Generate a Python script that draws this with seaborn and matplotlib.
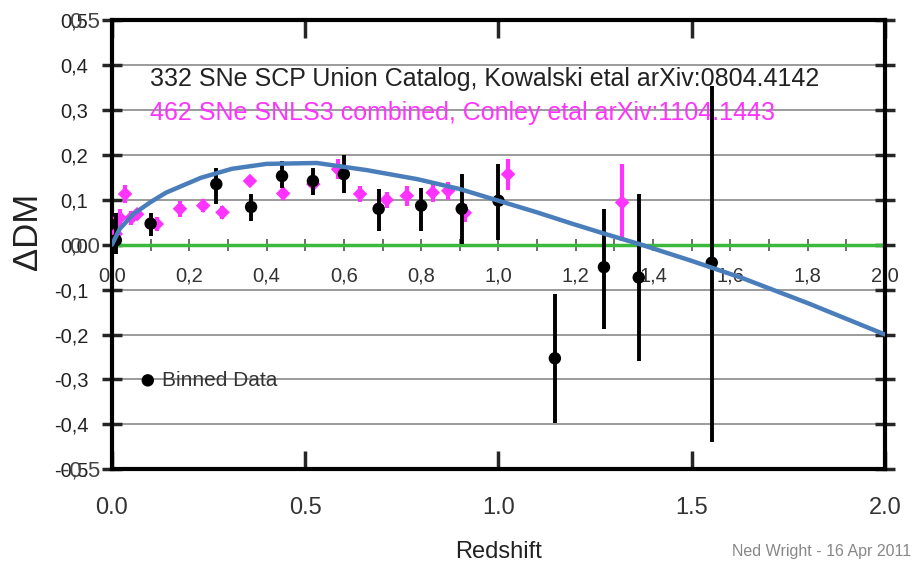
import pandas as pd
import seaborn as sns
from matplotlib import pyplot as plt

# binned Union catalog points (black) with error bar ends
union_z = [0.01, 0.10, 0.27, 0.36, 0.44, 0.52, 0.60, 0.69, 0.80, 0.905, 1.0, 1.146, 1.273, 1.363, 1.552]
union_dm = [0.01, 0.047, 0.135, 0.084, 0.153, 0.142, 0.157, 0.08, 0.087, 0.08, 0.098, -0.253, -0.05, -0.073, -0.04]
union_lo = [-0.02, 0.02, 0.09, 0.053, 0.127, 0.11, 0.116, 0.03, 0.03, 0.002, 0.01, -0.398, -0.187, -0.258, -0.44]
union_hi = [0.07, 0.07, 0.17, 0.113, 0.187, 0.17, 0.2, 0.124, 0.127, 0.157, 0.18, -0.109, 0.08, 0.113, 0.353]

# SNLS3 combined points (magenta)
snls_z = [0.01, 0.02, 0.034, 0.05, 0.065, 0.116, 0.176, 0.236, 0.286, 0.357, 0.443,
          0.521, 0.585, 0.642, 0.711, 0.763, 0.83, 0.87, 0.913, 1.025, 1.32]
snls_dm = [0.024, 0.06, 0.113, 0.06, 0.068, 0.046, 0.08, 0.087, 0.072, 0.142, 0.114,
           0.135, 0.168, 0.113, 0.1, 0.109, 0.116, 0.12, 0.071, 0.157, 0.094]
snls_err = [0.03, 0.02, 0.02, 0.015, 0.012, 0.015, 0.018, 0.015, 0.015, 0.012, 0.015,
            0.018, 0.022, 0.018, 0.018, 0.022, 0.02, 0.02, 0.02, 0.035, 0.085]

# model curve (blue)
model_z = [0, 0.02, 0.055, 0.1, 0.14, 0.23, 0.31, 0.4, 0.53, 0.66, 0.79, 0.9, 1.0, 1.1, 1.19, 1.28, 1.37,
           1.5, 1.63, 1.8, 2.0]
model_dm = [0, 0.035, 0.068, 0.095, 0.116, 0.149, 0.169, 0.18, 0.182, 0.166, 0.146, 0.124, 0.098, 0.072,
            0.047, 0.023, 0.0, -0.036, -0.074, -0.13, -0.2]

zero_z = [0, 2]
zero_dm = [0, 0]

y_ticks = [0.5, 0.4, 0.3, 0.2, 0.1, 0.0, -0.1, -0.2, -0.3, -0.4, -0.5]
y_labels = ["0,5", "0,4", "0,3", "0,2", "0,1", "0,0", "-0,1", "-0,2", "-0,3", "-0,4", "-0,5"]
y_ghost = {0.5: "0.5", 0.0: "0.0", -0.5: "-0.5"}
x_ticks = [0.0, 0.5, 1.0, 1.5, 2.0]
x_labels = ["0.0", "0.5", "1.0", "1.5", "2.0"]
x2_ticks = [0.0, 0.2, 0.4, 0.6, 0.8, 1.0, 1.2, 1.4, 1.6, 1.8, 2.0]
x2_labels = ["0,0", "0,2", "0,4", "0,6", "0,8", "1,0", "1,2", "1,4", "1,6", "1,8", "2,0"]
x2_minor = [0.1, 0.3, 0.5, 0.7, 0.9, 1.1, 1.3, 1.5, 1.7, 1.9]

union = pd.DataFrame({"z": union_z, "dm": union_dm, "lo": union_lo, "hi": union_hi})
snls = pd.DataFrame({"z": snls_z, "dm": snls_dm, "err": snls_err})
model = pd.DataFrame({"z": model_z, "dm": model_dm})

sns.set_style("white")
plt.rcParams["font.family"] = ["Liberation Sans", "DejaVu Sans"]

fig = plt.figure(figsize=(9.14, 5.66), dpi=100)
ax = fig.add_axes([0.1225, 0.171, 0.8457, 0.7933])

for y in y_ticks:
    ax.axhline(y, color="#8a8a8a", lw=1.2, zorder=0)

ax.plot(zero_z, zero_dm, color="#3cb83c", lw=2.5, zorder=1)

ax.errorbar(snls["z"], snls["dm"], yerr=snls["err"], fmt="none", ecolor="#ff33ff", elinewidth=3, zorder=2)
sns.scatterplot(data=snls, x="z", y="dm", marker="D", s=55, color="#ff33ff", edgecolor="none", ax=ax, zorder=3)

ax.vlines(union["z"], union["lo"], union["hi"], color="black", lw=2.8, zorder=4)
sns.scatterplot(data=union, x="z", y="dm", s=80, color="black", edgecolor="none", ax=ax, zorder=5,
                label="Binned Data")

sns.lineplot(data=model, x="z", y="dm", color="#4a7ebb", lw=3.2, ax=ax, zorder=6)

ax.set_xlim(0, 2)
ax.set_ylim(-0.5, 0.5)
ax.set_xticks(x_ticks)
ax.set_xticklabels(x_labels, fontsize=17, color="#333333")
ax.set_yticks(y_ticks)
ax.set_yticklabels(y_labels, fontsize=14.5, color="#222222")
ax.tick_params(axis="x", direction="in", length=13, width=2.5, top=True, bottom=True, pad=20)
ax.tick_params(axis="y", direction="inout", length=14, width=2.5, left=True, right=True, pad=10)
for s in ax.spines.values():
    s.set_linewidth(3)
    s.set_color("black")

# second label set overlapping the comma labels at 0.5, 0 and -0.5 (as in the source image)
for y, lab in y_ghost.items():
    ax.text(-0.0155, y, lab, transform=ax.get_yaxis_transform(), ha="right", va="center_baseline",
            fontsize=16, color="#444444")

ax.set_xlabel("Redshift", fontsize=17, color="#222222", labelpad=16)
ax.set_ylabel("ΔDM", fontsize=25, color="#222222")
ax.yaxis.set_label_coords(-0.088, 0.53)

# secondary comma-decimal axis along the zero line
sec = ax.secondary_xaxis(0.5)
sec.set_alignment("bottom")
sec.set_xticks(x2_ticks)
sec.set_xticklabels(x2_labels, fontsize=14.5, color="#333333")
sec.set_xticks(x2_minor, minor=True)
sec.tick_params(which="both", direction="inout", length=8, width=1.2, color="#555555", pad=12)
sec.spines["bottom"].set_visible(False)
sec.spines["top"].set_visible(False)

ax.text(0.098, 0.369, "332 SNe SCP Union Catalog, Kowalski etal arXiv:0804.4142",
        fontsize=18, color="#222222", va="center")
ax.text(0.098, 0.293, "462 SNe SNLS3 combined, Conley etal arXiv:1104.1443",
        fontsize=18, color="#ff33ff", va="center")

ax.legend(loc="center left", bbox_to_anchor=(0.014, 0.198), frameon=False, fontsize=15,
          handlelength=0.6, handletextpad=0.4, labelcolor="#333333")

fig.text(0.997, 0.017, "Ned Wright - 16 Apr 2011", fontsize=11.5, color="#888888", ha="right")

plt.savefig("out.png", dpi=100)
